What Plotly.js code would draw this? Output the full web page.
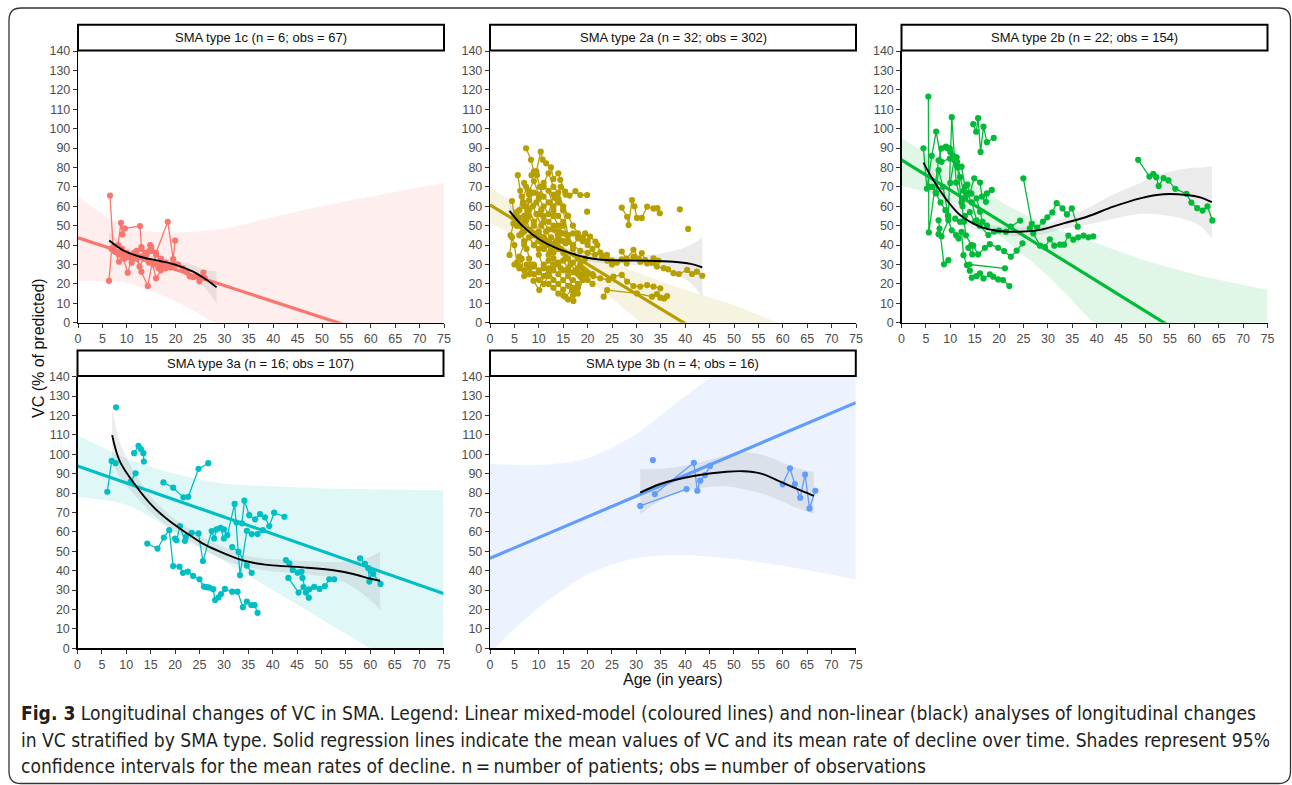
<!DOCTYPE html>
<html><head><meta charset="utf-8">
<script src="https://cdn.plot.ly/plotly-3.0.1.min.js"></script>
<style>html,body{margin:0;padding:0;background:#fff;}#chart{width:1292px;height:785px;}</style>
</head><body><div id="chart"></div>
<script>
// ---------------- DATA ----------------
const panelTitles = ["SMA type 1c (n = 6; obs = 67)", "SMA type 2a (n = 32; obs = 302)", "SMA type 2b (n = 22; obs = 154)", "SMA type 3a (n = 16; obs = 107)", "SMA type 3b (n = 4; obs = 16)"];
const panelColors = ["#F8766D", "#B79F00", "#00BA38", "#00BFC4", "#619CFF"];
const ageTicks = [0,5,10,15,20,25,30,35,40,45,50,55,60,65,70,75];
const vcTicks = [0,10,20,30,40,50,60,70,80,90,100,110,120,130,140];

// observations per patient: [age, VC]
const pts1c = [
 [[6.35,21.6],[6.9,38],[7.6,36.5],[8.4,31.4],[9.2,34],[10.2,25.8],[11,33],[12,35],[13,26.3],[14.3,18.9],[15.2,31],[16,22.9],[17,27],[18,28],[19,28.5]],
 [[6.56,65.5],[7.2,39],[8.2,40],[8.8,51.5],[9.1,45.5],[9.6,48.6],[12.7,49.8],[13,39],[13.8,36],[14.8,40],[16,36],[18.4,52],[19.5,32.8],[19.9,42.3]],
 [[7.5,37],[8.5,35],[9.5,33],[10.5,35],[11.5,36],[12.6,28.9],[13.5,33],[14.5,31],[15.5,30],[17,30]],
 [[9,38],[10,36],[11,34],[12,37],[13,38],[14,36],[15,39],[16.5,28],[18,29],[20,30]],
 [[20.5,30],[21.5,28],[22.3,26],[22.9,23.9],[23.6,23.5],[24.3,24],[24.9,21.3],[25.7,25.8],[26,23]],
 [[10,34],[11,31],[12,33],[13,34],[14,35],[15,37],[16,35],[17,33],[18,31],[19,30]]
];
const pts2a = [
 [[4.0,34.9],[4.5,44],[5,40],[5.5,31],[6,28],[7,27],[8,25],[9,29],[10,27],[11,24]],
 [[4.5,62.7],[5,55],[5.5,50],[6,58],[6.5,65],[7,60],[7.5,53],[8,48],[9,45],[10,42],[11,38]],
 [[5.7,76],[6.2,68],[6.8,62],[7.4,70],[8,66],[8.8,60],[9.5,56],[10.5,50],[11.5,47],[12.5,44]],
 [[7.4,89.9],[8.4,83.9],[9,78],[9.6,76],[10.2,70],[11,65],[12,62],[13,58],[14,55],[15,52]],
 [[8.5,76],[9.5,78],[10.4,88.1],[10.8,84],[11.5,82.1],[12.5,80],[13,74],[14,77],[14.4,73.6],[15.4,67.5]],
 [[13.5,64],[14.5,70],[15.5,66],[16.3,65.5],[17.5,67.8],[18.5,65.8],[19.9,65.8]],
 [[6,45],[7,52],[8,63],[9,67],[10,64],[11,60],[12,56],[13,66],[14,62],[15,58],[16,45],[17,40],[18.1,43.5],[19.5,46],[20.5,44.4],[21.6,41.8]],
 [[27,36.7],[28,33],[29.4,37.6],[30.5,33],[31.1,35.9],[31.8,32.3],[33,31],[33.5,33.2],[34.2,28.9],[35.6,28.1],[36.5,27.5],[37.6,25.5],[38.7,25.1],[40.4,27.2],[41.4,25.1],[42.4,26.3],[43.5,24.2]],
 [[14,44],[15.5,41],[17,40],[18.5,37],[20,36],[21.5,35],[22.6,36.1],[23.96,35],[25,32],[26,31],[27,32.6],[28,30.5],[29.4,34],[30.8,31.4],[32.2,30.6],[33.5,31],[34.5,32]],
 [[13,30],[14.5,28],[16,27],[17.5,26],[18.5,23.7],[19.5,27],[21.2,24],[22.6,22.9],[24.3,22],[25.3,23.7],[27,24.6],[28.1,21.2],[29.4,18.9],[30.8,18.6],[32.2,19.4],[33.5,18.6],[34.9,17.7]],
 [[23.3,13.4],[24,16.8],[30.1,15.1],[33.2,13.4],[34.2,14.8],[34.9,12.9],[35.7,12.5],[36.3,13.7]],
 [[27,59.3],[28.1,54.6],[28.4,50.3],[29.1,63.2],[29.6,60],[30.1,54],[31.1,54],[32.2,59.8],[33.5,58.9],[34.3,59],[34.8,56.4]],
 [[38.9,58.4]],
 [[40.6,48.3]],
 [[19.9,57.2]],
 [[8.9,21.6],[10.1,16.8],[11,24],[12,28],[13,22],[14,20],[15,17],[15.4,13.4],[16.8,16.8],[17.1,11.2]],
 [[9,30],[10,26],[11,30],[12,25],[13,27],[14,25],[15,22],[16,19],[17,22],[18,20]],
 [[10,35],[11,28],[12,32],[13,29],[14,31],[15,27],[16,24],[17,18],[18,15],[19,22],[20,26],[21,25]],
 [[11.5,40],[12.5,37],[13.5,42],[14.5,38],[15.5,34],[16.5,30],[17.5,27],[18.5,30],[19.5,33]],
 [[5,30],[6,34],[7,40],[8,44],[9,40],[10,38],[11,44],[12,40],[13,36],[14,45],[15,42]],
 [[6,50],[7,47],[8,55],[9,50],[10,56],[11,52],[12,48],[13,50],[14,47],[15,50],[16,45]],
 [[7,72],[8,68],[9,73],[10,66],[11,70],[12,68],[13,60],[14,64],[15,58],[16,55]],
 [[17,46],[18,44],[19,42],[20,40],[21,38],[22,40],[23,34],[24,32],[25,30]],
 [[12,20],[13,18],[14,15],[15,14],[16,12],[17,14],[17.5,16],[18,18]],
 [[9.5,62],[10.5,58],[11,55],[12,52],[13,55],[14,50],[15,46],[16,42],[17,38],[18,33],[19,28],[20,25]],
 [[4.2,45],[4.8,51],[5.5,57],[6,54],[6.5,46],[7,42],[7.5,38],[8,33],[8.5,30]],
 [[6,29],[6.5,33],[7,24],[7.5,30],[8,28],[9,25],[10,22],[11,20],[12,24]],
 [[11,72],[12,77],[13,70],[14,67],[15,60],[16,55],[17,50],[18,46],[19,44],[20,42]],
 [[7,55],[7.5,60],[8,58],[9,52],[10,47],[11,44],[12,42],[13,40],[14,38]],
 [[13,48],[14,42],[15,36],[16,33],[17,31],[18,28],[19,25],[20,22],[21,20]],
 [[9,40],[10,45],[11,41],[12,35],[13,33],[14,30],[15,32],[16,28],[17,26],[18,25]]
];
const pts2b = [
 [[4.5,89.9],[5.2,69.1],[6.2,86],[7.1,98.5],[8.2,82.9],[9.9,84.6],[11.4,80.7],[12.3,80.4],[13,70]],
 [[5.5,116.5],[5.6,46.5],[7.6,83.7],[8.2,89.8],[9.1,90.7],[9.9,89.8],[10.6,86],[11.3,85.2]],
 [[7.1,66.6],[7.6,78.6],[8.5,70],[9.6,55],[10.3,105.9],[11.2,72.2],[12.5,60],[13,64]],
 [[7.6,52.8],[7.8,48.5],[8.7,30.1],[9.6,32.2]],
 [[7.6,45.6],[8.2,44.5],[9.6,52.8],[10.3,47.6],[11.2,45.1],[11.7,43.4],[12.3,46.8],[12.7,34.8],[13.4,29.7],[14,26.8]],
 [[14.4,23.2],[15.4,24],[16.1,25.4],[16.8,22.8],[18.1,24.9],[18.8,23.7],[19.8,22.3],[20.8,22],[22.1,18.9]],
 [[13.9,30],[21.2,28]],
 [[14.7,102.3],[15.3,98.4],[15.7,105.4],[16.2,88],[16.8,101],[17.5,93],[18.9,95.2]],
 [[13.5,71.1],[14,66.6],[14.9,74.4],[16.1,72.2],[16.5,65],[17.3,62.3],[17.5,66.6],[18.5,68.4]],
 [[11,53.6],[12,52],[13,55],[14,57],[15,51.9],[16,50],[17.8,45.2],[19,47],[20,47.5],[21.4,46.9],[22.4,49.5],[24.3,52.6]],
 [[24.97,74.4],[26.7,50.9],[27.8,49],[29,52.1],[29.9,54.3],[30.9,56.8],[31.8,61.6],[33,58.9],[33.9,55.8],[34.9,58.9],[36.1,49.5]],
 [[13.7,38.6],[14.5,35.2],[14.7,39.7],[15.7,35.2],[17.1,38.6],[18.1,40.5],[19.8,38.6],[21,36.9],[22.4,34],[23.6,37.1],[24.8,40.9]],
 [[26.3,48.6],[27,46],[28.4,39.7],[29.4,38.9],[30.4,43],[31.3,39.7],[32.5,40.2],[33.3,40.2],[34.2,44.9],[35.2,42.8],[36.2,44],[37.3,44.9],[38.3,44],[39.3,44.5]],
 [[48.5,83.9],[50.8,75.3],[51.6,76.7],[52.2,75],[52.7,70.5],[53.7,74.5],[54.7,73.3],[56.1,69],[58.4,66.4],[59.4,61.9],[60.6,59],[61.7,57.8],[62.7,59.9],[63.7,52.7]],
 [[12.4,64],[13.2,67],[14.3,66.6],[15.4,64.1],[16.1,57.2],[16.6,52],[17.5,50]],
 [[10,72],[10.8,84],[11.4,82.9],[12,75],[12.7,68],[13.5,66],[14.4,62],[15.4,52.8]],
 [[9.3,90],[10,88],[10.8,84.5],[11.5,80],[12.3,62],[12.8,52],[13.2,45],[14.3,40]],
 [[5.8,70],[6.3,70],[7,67],[8,62],[9,58],[9.5,55]]
];
const pts3a = [
 [[6.1,80.7],[7,96.6],[7.8,95.4]],
 [[7.9,124.2]],
 [[10.9,85.9],[11.9,90.2]],
 [[11.6,100.6],[12.5,104.4],[13,102.7],[13.5,100.6],[13.6,96.3]],
 [[17.6,85.5],[19.6,82.8],[21.7,77.8],[22.7,78.1],[24.8,92.5],[26.8,95.4]],
 [[14.3,54],[16.4,51.4],[17.7,57.1],[18.8,60.9],[19.6,42.4],[20.9,42.1],[21.6,38.9],[22.6,39.5],[23.7,37.3],[25,35.6],[25.9,31.8],[26.5,31.5],[27,31.3],[27.8,30.5],[28.2,24.9],[28.9,26.3],[29.4,28],[30.2,30.6],[31.7,29.2],[32.8,29.2],[33.9,21.2],[34.7,24.1],[35.6,22.3],[36.3,22.3],[36.9,18.3]],
 [[19.98,56.6],[20.3,55.7],[21,63],[22,55.4],[22.2,57.4],[23.4,59.5],[24.8,59.2],[25.7,45],[27.5,60.4],[28,56.6],[28.5,61.3],[29.3,62.1],[30,56.6]],
 [[30,61.3],[30.7,58.3],[32.2,74.4],[33.3,37.7],[34.7,60.6],[35.7,58.9],[36.9,58.9],[38,60.9]],
 [[32.6,64.8],[33.7,64.4],[34.2,76.1],[35.2,68.6],[36.4,66.5],[37.4,69.2],[38.4,67.5],[39.3,63],[40.3,69.9],[42.4,67.8]],
 [[31.7,52.2],[33,49.7],[34.7,42.6],[35.7,38.9]],
 [[42.7,45.5],[43.4,43.8],[44.1,40.4],[45.1,39],[45.9,39.5],[46.1,36.3],[46.8,28.8],[47.4,26.1]],
 [[43.2,36.3],[45.3,28.7],[46.3,31.6],[47.5,30.4],[48.5,31.7],[49.6,30.6],[50.7,32.1],[51.6,35.6],[52.6,35.6]],
 [[57.9,46.4],[58.9,43.5],[59.6,41.3],[59.8,34.4],[60.3,39.6],[60.6,38.4],[62.1,33.2]]
];
const pts3b = [
 [[30.8,73.4],[40.3,82.1]],
 [[33.4,97]],
 [[33.8,79.5],[41.8,95.6],[42.5,81.2],[43.1,86.4],[44.1,89.3],[45.1,94]],
 [[60,84.5],[61.5,92.8],[62.5,84.7],[63.6,77.6],[64.6,89.6],[65.5,72.1],[66.7,81.2]]
];

// linear mixed-model lines (ends at age 0 and 75)
const linX = [0, 75];
const lin1cY = [43.8, -17.85];
const lin2aY = [60.7, -54.05];
const lin2bY = [83.9, -33.1];
const lin3aY = [94, 28.3];
const lin3bY = [46.4, 126.6];

// 95% CI of linear model
const bandX = [0,10,20,30,40,50,60,75];
const band1cHi = [65,49,46.5,48.5,54.5,60,65,72];
const band1cLo = [21.5,20.5,11,-3,-18,-33,-48,-70];
const band2aHi = [70,53,38,26,17,9,-1,-15];
const band2aLo = [51.5,38,22,2,-20,-40,-60,-90];
const band2bHi = [95,80,63,50,41,32,25,17];
const band2bLo = [70.5,63,45,24,-2,-28,-55,-95];
const band3aHi = [110,98,90,85,83.5,82.5,82,81.5];
const band3aLo = [78,74,60,45,30,15,0,-22];
const band3bHi = [95,94.5,98,110.5,130,148,165,190];
const band3bLo = [-2,21,38,46.5,48,46,42.5,35.5];

// non-linear (black) fits with CI
const sm1cX = [6.4,9.3,12.7,16.8,20.2,23.6,26.4,28.4];
const sm1cY = [42.3,37.2,34,31.8,29.7,26.3,22,18.2];
const sm1cHi = [47,40,36,33.8,31.8,29.5,27,26.5];
const sm1cLo = [37.5,34.5,32,29.8,27.7,23,17,10];
const sm2aX = [4,6.8,10.3,13.7,17.1,20.5,23.9,30.8,37.6,41.1,43.5];
const sm2aY = [57.6,49.5,42.6,38.3,35.4,33.2,32.3,32,31.4,30.3,28.5];
const sm2aHi = [62,52.5,44.5,40,37,35,34.2,34.5,37,40,44];
const sm2aLo = [53,46.5,40.7,36.6,33.8,31.4,30.4,29.5,25.8,20.5,13.5];
const sm2bX = [4.5,6.5,9.3,12,16.1,19.5,24.3,28.4,33.2,38,43.4,48.9,53.7,58.4,61.2,63.6];
const sm2bY = [82.5,73.5,63.2,55.5,49.5,47.4,46.9,47.8,51.2,54.6,59.8,64.1,66.2,65.8,64.6,62.1];
const sm2bHi = [88,77.5,66.5,58.5,52,49.8,49.2,50.3,54,58.8,66,72,77,79.5,80,80.5];
const sm2bLo = [77,69.5,60,52.5,47,45,44.6,45.3,48.4,50.5,53.6,56,55.5,53,50,43.5];
const sm3aX = [7.1,8.7,12.1,15.5,19,22.4,25.8,29.2,32.6,36,39.4,46.3,53.1,56.5,59.9,62];
const sm3aY = [109.9,96.2,83.3,73,65.3,59.3,53.8,49.8,46.4,44.1,42.9,41.7,40,38.3,36,34.8];
const sm3aHi = [124,106,89,77,68.5,62.5,57,53,49.5,47,46,45,44.5,45,47,50];
const sm3aLo = [97,88,78,69,62,56,50.6,46.6,43.3,41.2,39.8,38.4,35.5,31.5,25,19.7];
const sm3bX = [30.8,34.9,41.7,48.5,51.9,55.4,58.8,62.2,66.4];
const sm3bY = [80.2,84.7,88.8,91,91.3,90.2,86.7,82.9,78.6];
const sm3bHi = [92.3,92.5,95,99.5,101,100,97,93.5,90.8];
const sm3bLo = [68.9,76,82,83.5,82,80,77,73,69.2];

const captionLines = [
 "<b>Fig. 3</b> Longitudinal changes of VC in SMA. Legend: Linear mixed-model (coloured lines) and non-linear (black) analyses of longitudinal changes",
 "in VC stratified by SMA type. Solid regression lines indicate the mean values of VC and its mean rate of decline over time. Shades represent 95%",
 "confidence intervals for the mean rates of decline. n\u2009=\u2009number of patients; obs\u2009=\u2009number of observations"
];

// ---------------- LAYOUT GEOMETRY (pixels) ----------------
const W = 1292, H = 785;
const panelBox = [
 {x0:78, x1:444, yT:51, yB:322.7},
 {x0:490, x1:856, yT:51, yB:322.7},
 {x0:901.5, x1:1267.5, yT:51, yB:322.7},
 {x0:77.5, x1:443.5, yT:376.7, yB:648.3},
 {x0:490, x1:855.8, yT:376.7, yB:648.3}
];
const px = v => v / W;
const py = v => 1 - v / H;

function rgba(hex, a) {
  const r = parseInt(hex.slice(1,3),16), g = parseInt(hex.slice(3,5),16), b = parseInt(hex.slice(5,7),16);
  return `rgba(${r},${g},${b},${a})`;
}

const panels = [
 {pts:pts1c, linY:lin1cY, bHi:band1cHi, bLo:band1cLo, sX:sm1cX, sY:sm1cY, sHi:sm1cHi, sLo:sm1cLo},
 {pts:pts2a, linY:lin2aY, bHi:band2aHi, bLo:band2aLo, sX:sm2aX, sY:sm2aY, sHi:sm2aHi, sLo:sm2aLo},
 {pts:pts2b, linY:lin2bY, bHi:band2bHi, bLo:band2bLo, sX:sm2bX, sY:sm2bY, sHi:sm2bHi, sLo:sm2bLo},
 {pts:pts3a, linY:lin3aY, bHi:band3aHi, bLo:band3aLo, sX:sm3aX, sY:sm3aY, sHi:sm3aHi, sLo:sm3aLo},
 {pts:pts3b, linY:lin3bY, bHi:band3bHi, bLo:band3bLo, sX:sm3bX, sY:sm3bY, sHi:sm3bHi, sLo:sm3bLo}
];

const traces = [];
const layout = {
  width: W, height: H,
  margin: {l:0, r:0, t:0, b:0},
  paper_bgcolor: '#fff', plot_bgcolor: 'rgba(0,0,0,0)',
  showlegend: false,
  font: {family: 'Liberation Sans, Arial, sans-serif'},
  shapes: [], annotations: []
};

panels.forEach((p, i) => {
  const n = i === 0 ? '' : String(i + 1);
  const xa = 'x' + n, ya = 'y' + n;
  const col = panelColors[i];
  const box = panelBox[i];
  const common = {xaxis: xa, yaxis: ya, hoverinfo: 'skip', showlegend: false};
  // linear CI band (lower edge, then upper edge filled to it)
  traces.push(Object.assign({x: bandX, y: p.bLo, mode: 'lines',
    line: {width: 0, color: 'rgba(0,0,0,0)', shape: 'spline', smoothing: 0.8}}, common));
  traces.push(Object.assign({x: bandX, y: p.bHi, mode: 'lines', fill: 'tonexty', fillcolor: rgba(col, 0.12),
    line: {width: 0, color: 'rgba(0,0,0,0)', shape: 'spline', smoothing: 0.8}}, common));
  // non-linear CI band
  traces.push(Object.assign({x: p.sX, y: p.sLo, mode: 'lines',
    line: {width: 0, color: 'rgba(0,0,0,0)', shape: 'spline', smoothing: 1}}, common));
  traces.push(Object.assign({x: p.sX, y: p.sHi, mode: 'lines', fill: 'tonexty', fillcolor: 'rgba(153,153,153,0.2)',
    line: {width: 0, color: 'rgba(0,0,0,0)', shape: 'spline', smoothing: 1}}, common));
  // patients
  p.pts.forEach(pt => {
    traces.push(Object.assign({
      x: pt.map(d => d[0]), y: pt.map(d => d[1]),
      mode: 'lines+markers',
      line: {color: col, width: 1.3},
      marker: {color: col, size: 6.2}
    }, common));
  });
  // linear line
  traces.push(Object.assign({
    x: linX, y: p.linY, mode: 'lines', line: {color: col, width: 3.2}
  }, common));
  // black curve
  traces.push(Object.assign({
    x: p.sX, y: p.sY, mode: 'lines', line: {color: '#000', width: 1.9, shape: 'spline', smoothing: 1}
  }, common));

  const tickfont = {family: 'Liberation Sans, Arial, sans-serif', size: 12.5, color: '#4D4D4D'};
  layout['xaxis' + n] = {
    domain: [px(box.x0), px(box.x1)], anchor: ya, range: [0, 75],
    tickmode: 'array', tickvals: ageTicks, ticktext: ageTicks.map(String),
    showline: true, linecolor: '#000', linewidth: 1.2, ticks: 'outside', ticklen: 4, tickwidth: 1, tickcolor: '#333',
    tickfont: tickfont, showgrid: false, zeroline: false, fixedrange: true, automargin: false
  };
  layout['yaxis' + n] = {
    domain: [py(box.yB), py(box.yT)], anchor: xa, range: [0, 140],
    tickmode: 'array', tickvals: vcTicks, ticktext: vcTicks.map(String),
    showline: true, linecolor: '#000', linewidth: 1.2, ticks: 'outside', ticklen: 4, tickwidth: 1, tickcolor: '#333',
    tickfont: tickfont, showgrid: false, zeroline: false, fixedrange: true, automargin: false
  };
  // strip box
  const sT = box.yT - 26.3, sB = box.yT - 0.6;
  layout.shapes.push({type: 'rect', xref: 'paper', yref: 'paper', x0: px(box.x0), x1: px(box.x1), y0: py(sB), y1: py(sT),
    line: {color: '#000', width: 2}, fillcolor: '#fff', layer: 'above'});
  layout.annotations.push({xref: 'paper', yref: 'paper', x: px((box.x0 + box.x1) / 2), y: py((sT + sB) / 2),
    xanchor: 'center', yanchor: 'middle', showarrow: false, text: panelTitles[i],
    font: {family: 'Liberation Sans, Arial, sans-serif', size: 13, color: '#111'}});
});

// axis titles
layout.annotations.push({xref: 'paper', yref: 'paper', x: px(38), y: py(348), textangle: -90,
  xanchor: 'center', yanchor: 'middle', showarrow: false, text: 'VC (% of predicted)',
  font: {family: 'Liberation Sans, Arial, sans-serif', size: 16, color: '#111'}});
layout.annotations.push({xref: 'paper', yref: 'paper', x: px(673), y: py(679),
  xanchor: 'center', yanchor: 'middle', showarrow: false, text: 'Age (in years)',
  font: {family: 'Liberation Sans, Arial, sans-serif', size: 16, color: '#111'}});

// caption
const capY = [713, 740, 766];
captionLines.forEach((t, k) => {
  layout.annotations.push({xref: 'paper', yref: 'paper', x: px(19), y: py(capY[k]),
    xanchor: 'left', yanchor: 'middle', showarrow: false, text: t,
    font: {family: 'Liberation Sans Narrow, DejaVu Sans Condensed, Arial Narrow, sans-serif', size: 19.1, color: '#231F20'}});
});

// rounded outer frame
(function () {
  const L = 9, T = 8, R = 1290.5, B = 783.5, r = 12;
  const P = (x, y) => `${px(x)},${py(y)}`;
  const path = `M${P(L + r, T)} L${P(R - r, T)} Q${P(R, T)} ${P(R, T + r)} L${P(R, B - r)} Q${P(R, B)} ${P(R - r, B)} ` +
               `L${P(L + r, B)} Q${P(L, B)} ${P(L, B - r)} L${P(L, T + r)} Q${P(L, T)} ${P(L + r, T)} Z`;
  layout.shapes.push({type: 'path', xref: 'paper', yref: 'paper', path: path, line: {color: '#333', width: 1.3}, layer: 'above'});
})();

Plotly.newPlot('chart', traces, layout, {staticPlot: true, displayModeBar: false});
</script>
</body></html>
